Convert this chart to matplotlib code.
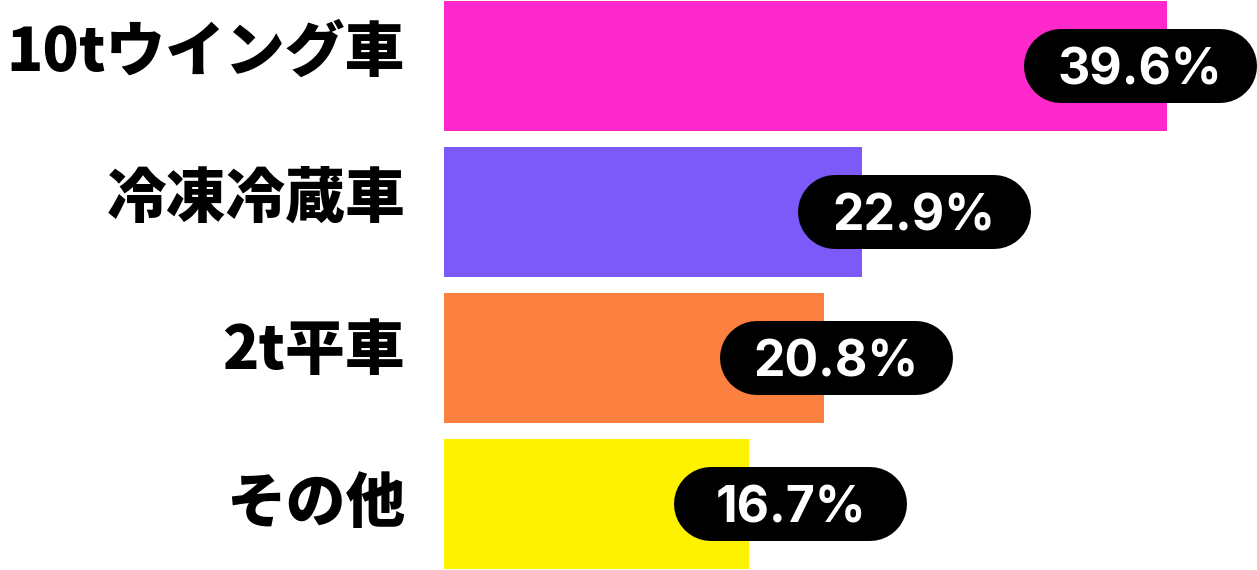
import matplotlib
matplotlib.use("Agg")
import matplotlib.pyplot as plt

categories = ["10tウイング車", "冷凍冷蔵車", "2t平車", "その他"]
values = [39.6, 22.9, 20.8, 16.7]
value_labels = ["39.6%", "22.9%", "20.8%", "16.7%"]
colors = ["#FF28CA", "#7C5AFA", "#FC8040", "#FFF200"]

# style / placement (pill centre x in data units, label y offsets)
pill_x = [38.12, 25.74, 21.47, 19.0]
label_dy = [-0.09, -0.09, -0.05, 0.0]

W, H, DPI = 1257, 570, 100
PX = 18.26  # pixels per data unit along x
fig = plt.figure(figsize=(W / DPI, H / DPI), dpi=DPI)
ax = fig.add_axes([444 / W, 0, 1 - 444 / W, 1])
ypos = list(range(len(categories)))
ax.barh(ypos, values, height=0.897, color=colors, linewidth=0)
ax.set_xlim(0, 813 / PX)
ax.set_ylim(3.452, -0.452)
ax.axis("off")

cat_font = dict(family=["Noto Sans CJK JP", "DejaVu Sans"], weight="black", size=43)
for y, c, dy in zip(ypos, categories, label_dy):
    ax.text(-39 / PX, y + dy, c, ha="right", va="center", color="black",
            clip_on=False, **cat_font)

pw, ph = 233, 74
half = (pw / 2 - ph / 2) / PX
for y, px, lab in zip(ypos, pill_x, value_labels):
    ax.plot([px - half, px + half], [y, y], color="black",
            linewidth=ph * 72 / DPI, solid_capstyle="round",
            zorder=5, clip_on=False)
    ax.text(px, y, lab, ha="center", va="center_baseline", color="white",
            family=["Inter", "DejaVu Sans"], weight="bold", size=36, zorder=6)

fig.savefig("out.png", dpi=DPI, facecolor="white")
